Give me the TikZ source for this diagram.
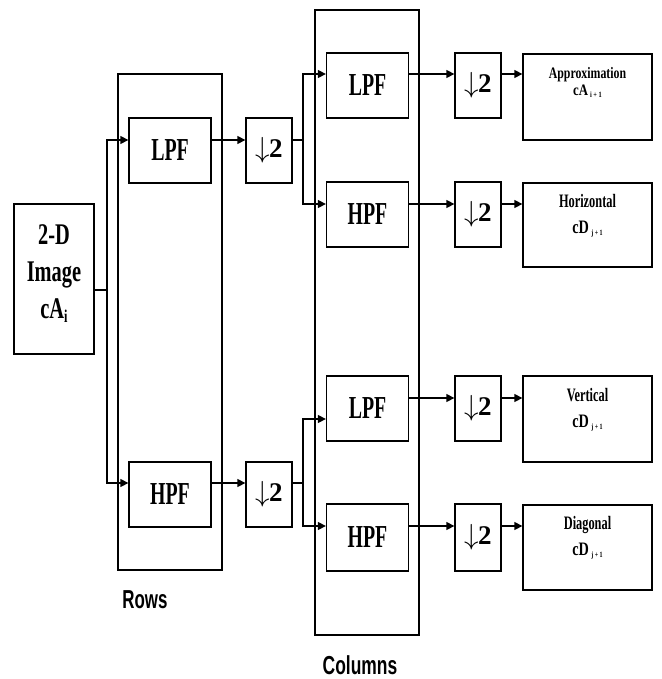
\documentclass[tikz,border=0pt]{standalone}
\usepackage{fontspec}
\setmainfont{Liberation Serif}
\setsansfont{Liberation Sans}
\usetikzlibrary{arrows.meta}
\newcommand{\sx}[2]{\scalebox{#1}[1]{#2}}
\newcommand{\subx}[1]{{\fontsize{8}{8}\selectfont\raisebox{-2pt}{#1}}}
\newcommand{\dnarrow}{\scalebox{2.9}{\normalsize$\downarrow$}\kern-1pt 2}
\begin{document}
\begin{tikzpicture}[x=1pt,y=-1pt,
  box/.style={draw, line width=1.3pt, inner sep=0pt},
  filt/.style={box, minimum width=82pt, minimum height=65pt, font=\bfseries\fontsize{32}{36}\selectfont},
  dsamp/.style={box, minimum width=46pt, minimum height=65pt, font=\bfseries\fontsize{27}{30}\selectfont},
  outbox/.style={box, minimum width=129pt},
  outtxt/.style={align=center, font=\bfseries\fontsize{19}{26}\selectfont, inner sep=0pt, anchor=north},
  captxt/.style={font=\sffamily\bfseries\fontsize{26}{30}\selectfont, inner sep=0pt},
  conn/.style={line width=1.3pt},
  arr/.style={conn, -{Triangle[length=8pt,width=8pt]}}]
\useasboundingbox (0,0) rectangle (661,679);

% group frames
\node[box, minimum width=104pt, minimum height=496pt] (rowsB) at (170,322) {};
\node[box, minimum width=104pt, minimum height=625pt] (colsB) at (367,322.5) {};

% input
\node[box, minimum width=80pt, minimum height=150pt] (img) at (54,279) {};
\node[align=center, inner sep=0pt, font=\bfseries\fontsize{30}{37}\selectfont] (imgT) at ([yshift=5.5pt]img.center)
  {\sx{0.68}{2-D}\\\sx{0.68}{Image}\\\sx{0.68}{cA{\fontsize{18}{18}\selectfont\raisebox{-4pt}{i}}}};

% row stage
\node[filt] (lpfR) at (170,150.5) {\sx{0.62}{LPF}};
\node[filt] (hpfR) at (170,494.5) {\sx{0.62}{HPF}};
\node[dsamp] (dR1) at (269,150.5) {\dnarrow};
\node[dsamp] (dR2) at (269,494.5) {\dnarrow};

% column stage
\node[filt] (lpfC1) at (367.5,85.5) {\sx{0.62}{LPF}};
\node[filt] (hpfC1) at (367.5,214.5) {\sx{0.62}{HPF}};
\node[filt] (lpfC2) at (367.5,408.5) {\sx{0.62}{LPF}};
\node[filt, minimum height=67pt] (hpfC2) at (367.5,537.5) {\sx{0.62}{HPF}};
\node[dsamp] (dC1) at (478,85.5) {\dnarrow};
\node[dsamp] (dC2) at (478,214.5) {\dnarrow};
\node[dsamp] (dC3) at (478,408.5) {\dnarrow};
\node[dsamp, minimum height=67pt] (dC4) at (478,537.5) {\dnarrow};

% outputs
\node[outbox, minimum height=86pt] (o1) at (587.5,97) {};
\node[outbox, minimum height=84pt] (o2) at (587.5,225) {};
\node[outbox, minimum height=86pt] (o3) at (587.5,419) {};
\node[outbox, minimum height=85pt] (o4) at (587.5,547.5) {};
\node[outtxt, font=\bfseries\fontsize{16}{17}\selectfont] (t1) at ([yshift=-14pt]o1.north)
  {\sx{0.74}{Approximation}\\\sx{0.8}{cA\,\subx{i + 1}}};
\node[outtxt] (t2) at ([yshift=-12pt]o2.north) {\sx{0.65}{Horizontal}\\\sx{0.75}{cD\,\subx{j + 1}}};
\node[outtxt] (t3) at ([yshift=-13pt]o3.north) {\sx{0.65}{Vertical}\\\sx{0.75}{cD\,\subx{j + 1}}};
\node[outtxt] (t4) at ([yshift=-12pt]o4.north) {\sx{0.65}{Diagonal}\\\sx{0.75}{cD\,\subx{j + 1}}};

% captions
\node[captxt] (rowsT) at (145,600) {\sx{0.65}{Rows}};
\node[captxt] (colsT) at (360,665) {\sx{0.67}{Columns}};

% junctions and levels
\coordinate (jA) at (107,290);
\coordinate (jB) at (303,140);
\coordinate (jC) at (303,483);
\coordinate (yC1) at (0,74);
\coordinate (yC2) at (0,204);
\coordinate (yC3i) at (0,419);
\coordinate (yC3o) at (0,398);
\coordinate (yC4) at (0,526);

% connectors
\draw[conn] (img.east |- jA) -- (jA);
\draw[arr] (jA) |- (lpfR.west |- jB);
\draw[arr] (jA) |- (hpfR.west |- jC);
\draw[arr] (lpfR.east |- jB) -- (dR1.west |- jB);
\draw[arr] (hpfR.east |- jC) -- (dR2.west |- jC);
\draw[conn] (dR1.east |- jB) -- (jB);
\draw[conn] (dR2.east |- jC) -- (jC);
\draw[arr] (jB) |- (lpfC1.west |- yC1);
\draw[arr] (jB) |- (hpfC1.west |- yC2);
\draw[arr] (jC) |- (lpfC2.west |- yC3i);
\draw[arr] (jC) |- (hpfC2.west |- yC4);
\draw[arr] (lpfC1.east |- yC1) -- (dC1.west |- yC1);
\draw[arr] (hpfC1.east |- yC2) -- (dC2.west |- yC2);
\draw[arr] (lpfC2.east |- yC3o) -- (dC3.west |- yC3o);
\draw[arr] (hpfC2.east |- yC4) -- (dC4.west |- yC4);
\draw[arr] (dC1.east |- yC1) -- (o1.west |- yC1);
\draw[arr] (dC2.east |- yC2) -- (o2.west |- yC2);
\draw[arr] (dC3.east |- yC3o) -- (o3.west |- yC3o);
\draw[arr] (dC4.east |- yC4) -- (o4.west |- yC4);
\end{tikzpicture}
\end{document}
